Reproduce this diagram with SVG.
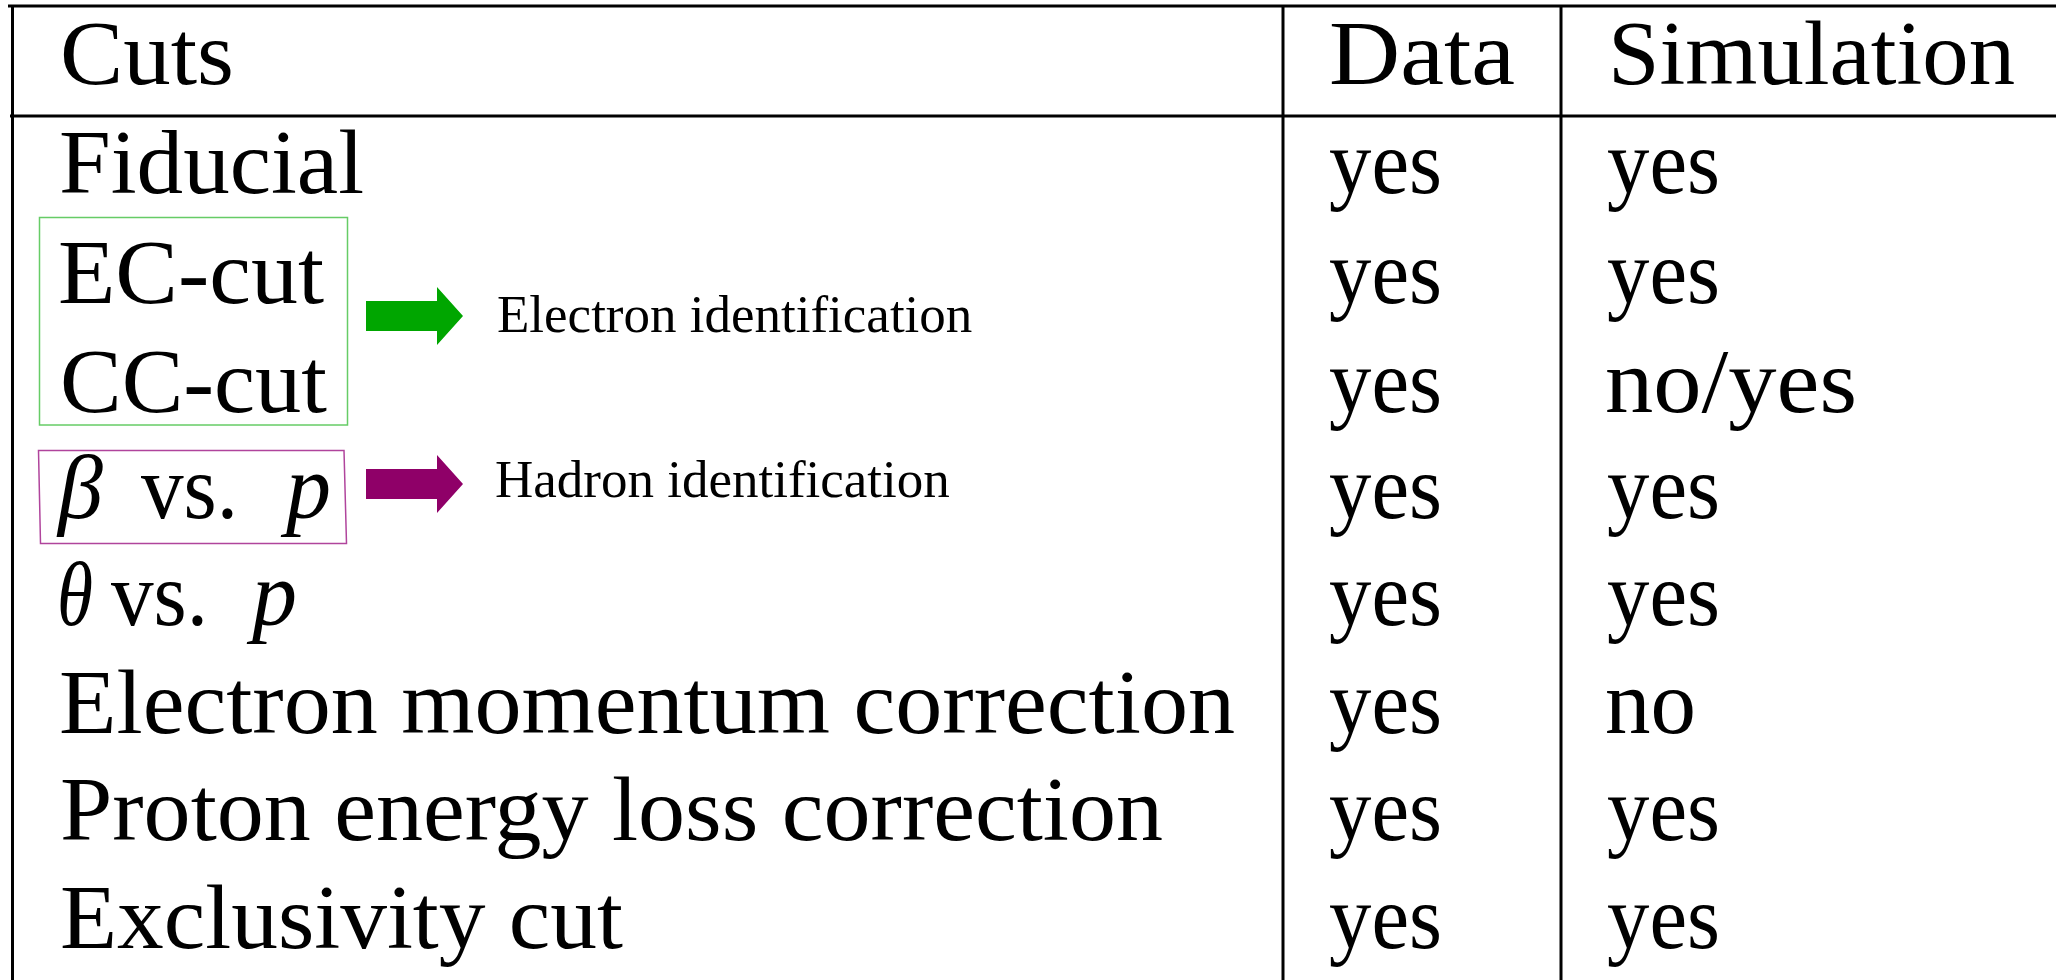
<svg xmlns="http://www.w3.org/2000/svg" width="2056" height="980" viewBox="0 0 2056 980">
<style>
.t{font-family:"Liberation Serif","Times New Roman",serif;font-size:90px;fill:#000}
.m{font-style:italic}
.lbl{font-family:"Liberation Serif","Times New Roman",serif;font-size:53px;fill:#000}
.rule{stroke:#000;stroke-width:3;fill:none}
</style>
<rect width="2056" height="980" fill="#fff"/>
<g id="grid">
<line class="rule" x1="8" y1="6" x2="2056" y2="6"/>
<line class="rule" x1="10" y1="116" x2="2056" y2="116"/>
<line class="rule" x1="12.5" y1="6" x2="12.5" y2="980"/>
<line class="rule" x1="1283" y1="6" x2="1283" y2="980"/>
<line class="rule" x1="1561" y1="6" x2="1561" y2="980"/>
</g>
<g id="header">
<text class="t" x="60" y="84" textLength="174" lengthAdjust="spacingAndGlyphs">Cuts</text>
<text class="t" x="1329" y="84" textLength="186" lengthAdjust="spacingAndGlyphs">Data</text>
<text class="t" x="1608" y="84" textLength="407" lengthAdjust="spacingAndGlyphs">Simulation</text>
</g>
<g id="row-fiducial">
<text class="t" x="59" y="193" textLength="305" lengthAdjust="spacingAndGlyphs">Fiducial</text>
<text class="t" x="1329" y="193" textLength="113" lengthAdjust="spacingAndGlyphs">yes</text>
<text class="t" x="1607" y="193" textLength="113" lengthAdjust="spacingAndGlyphs">yes</text>
</g>
<g id="row-ec">
<text class="t" x="58" y="303" textLength="266" lengthAdjust="spacingAndGlyphs">EC-cut</text>
<text class="t" x="1329" y="303" textLength="113" lengthAdjust="spacingAndGlyphs">yes</text>
<text class="t" x="1607" y="303" textLength="113" lengthAdjust="spacingAndGlyphs">yes</text>
</g>
<g id="row-cc">
<text class="t" x="60" y="412" textLength="267" lengthAdjust="spacingAndGlyphs">CC-cut</text>
<text class="t" x="1329" y="412" textLength="113" lengthAdjust="spacingAndGlyphs">yes</text>
<text class="t" x="1605" y="412" textLength="252" lengthAdjust="spacingAndGlyphs">no/yes</text>
</g>
<g id="row-beta">
<text class="t m" x="58" y="518">β</text>
<text class="t" x="141" y="518" textLength="97" lengthAdjust="spacingAndGlyphs">vs.</text>
<text class="t m" x="286" y="518">p</text>
<text class="t" x="1329" y="518" textLength="113" lengthAdjust="spacingAndGlyphs">yes</text>
<text class="t" x="1607" y="518" textLength="113" lengthAdjust="spacingAndGlyphs">yes</text>
</g>
<g id="row-theta">
<text class="t m" x="57" y="625" textLength="36" lengthAdjust="spacingAndGlyphs">θ</text>
<text class="t" x="111" y="625" textLength="97" lengthAdjust="spacingAndGlyphs">vs.</text>
<text class="t m" x="252" y="625">p</text>
<text class="t" x="1329" y="625" textLength="113" lengthAdjust="spacingAndGlyphs">yes</text>
<text class="t" x="1607" y="625" textLength="113" lengthAdjust="spacingAndGlyphs">yes</text>
</g>
<g id="row-emc">
<text class="t" x="59" y="733" textLength="1176" lengthAdjust="spacingAndGlyphs">Electron momentum correction</text>
<text class="t" x="1329" y="733" textLength="113" lengthAdjust="spacingAndGlyphs">yes</text>
<text class="t" x="1605" y="733" textLength="91" lengthAdjust="spacingAndGlyphs">no</text>
</g>
<g id="row-pelc">
<text class="t" x="60" y="840" textLength="1103" lengthAdjust="spacingAndGlyphs">Proton energy loss correction</text>
<text class="t" x="1329" y="840" textLength="113" lengthAdjust="spacingAndGlyphs">yes</text>
<text class="t" x="1607" y="840" textLength="113" lengthAdjust="spacingAndGlyphs">yes</text>
</g>
<g id="row-excl">
<text class="t" x="60" y="948" textLength="563" lengthAdjust="spacingAndGlyphs">Exclusivity cut</text>
<text class="t" x="1329" y="948" textLength="113" lengthAdjust="spacingAndGlyphs">yes</text>
<text class="t" x="1607" y="948" textLength="113" lengthAdjust="spacingAndGlyphs">yes</text>
</g>
<g id="electron-box">
<rect x="39.5" y="217.5" width="308" height="207.5" fill="none" stroke="#66cc66" stroke-width="1.5"/>
</g>
<g id="hadron-box">
<polygon points="38.5,450.5 344,450.5 346.5,543.5 40.5,543.5" fill="none" stroke="#b0449c" stroke-width="1.5"/>
</g>
<g id="electron-label">
<text class="lbl" x="497" y="332">Electron identification</text>
</g>
<g id="hadron-label">
<text class="lbl" x="495" y="497">Hadron identification</text>
</g>
<g id="connectors">
<polygon points="366,301 437,301 437,287 463,316 437,345 437,331 366,331" fill="#00a600"/>
<polygon points="366,469 437,469 437,455 463,484 437,513 437,499 366,499" fill="#8f0068"/>
</g>
</svg>
